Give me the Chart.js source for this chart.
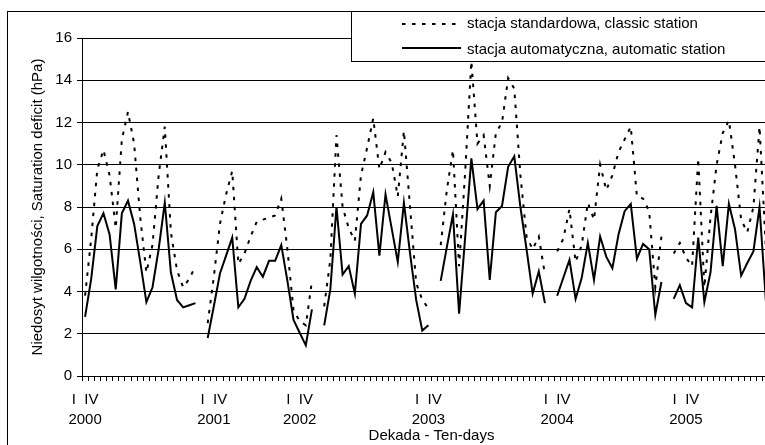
<!DOCTYPE html>
<html lang="pl">
<head>
<meta charset="utf-8">
<title>Niedosyt wilgotności</title>
<script src="https://cdn.jsdelivr.net/npm/chart.js@4.4.1/dist/chart.umd.min.js"></script>
<style>
  html, body { margin: 0; padding: 0; background: #fff; overflow: hidden; }
  #wrap { width: 800px; height: 445px; }
</style>
</head>
<body>
<div id="wrap"><canvas id="deficitChart" width="800" height="445"></canvas></div>
<script>
// 1. Dane (dekady sezonu, między latami jedna pusta dekada)
const years = ['2000', '2001', '2002', '2003', '2004', '2005'];
const yearTickIndex = [0, 21, 35, 56, 77, 98];
const dekadaLabel = 'I  IV';

// stacja standardowa (linia kropkowana)
const classic2000 = [3.8, 6.5, 9.8, 10.7, 9.5, 7.0, 11.2, 12.5, 11.0, 7.5, 4.9, 6.2, 9.5, 11.8, 6.8, 5.0, 4.2, 4.6, 5.2];
const classic2001 = [2.5, 4.7, 7.2, 8.6, 9.7, 5.3, 5.8, 6.6, 7.3, 7.4, 7.5, 7.6, 8.4, 6.0, 3.1, 2.6, 2.4, 4.5];
const classic2002 = [3.3, 5.5, 11.4, 8.0, 7.0, 6.4, 9.5, 10.8, 12.2, 9.8, 10.6, 10.1, 8.5, 11.6, 8.0, 4.4, 3.6, 3.2];
const classic2003 = [6.2, 8.8, 10.7, 5.2, 9.7, 14.9, 11.0, 11.4, 9.0, 11.5, 12.0, 14.1, 13.6, 9.5, 6.6, 6.0, 6.6, 4.8];
const classic2004 = [5.9, 6.5, 7.9, 5.4, 6.2, 8.2, 7.4, 10.0, 8.8, 9.5, 10.6, 11.2, 11.8, 8.5, 8.4, 7.8, 4.2, 6.6];
const classic2005 = [5.8, 6.3, 5.6, 5.2, 10.3, 4.2, 7.5, 10.0, 11.5, 12.1, 10.0, 7.4, 6.8, 8.0, 11.8, 6.2, 7.0, 8.0];

// stacja automatyczna (linia ciągła)
const automatic2000 = [2.8, 4.6, 7.1, 7.7, 6.7, 4.1, 7.7, 8.3, 7.2, 5.4, 3.5, 4.2, 6.0, 8.2, 4.9, 3.6, 3.25, 3.35, 3.45];
const automatic2001 = [1.8, 3.3, 4.85, 5.7, 6.55, 3.25, 3.65, 4.5, 5.15, 4.7, 5.45, 5.45, 6.2, 4.5, 2.65, 2.05, 1.45, 3.15];
const automatic2002 = [2.4, 4.1, 8.0, 4.8, 5.2, 3.9, 7.2, 7.6, 8.7, 5.7, 8.6, 7.0, 5.4, 8.2, 5.8, 3.6, 2.15, 2.4];
const automatic2003 = [4.5, 6.1, 7.65, 2.95, 6.6, 10.3, 7.9, 8.3, 4.55, 7.75, 8.05, 9.9, 10.4, 8.0, 6.0, 3.9, 4.95, 3.45];
const automatic2004 = [3.8, 4.65, 5.5, 3.65, 4.65, 6.3, 4.55, 6.6, 5.65, 5.1, 6.7, 7.8, 8.15, 5.55, 6.25, 6.0, 2.9, 4.45];
const automatic2005 = [3.65, 4.3, 3.45, 3.25, 6.55, 3.5, 4.9, 8.05, 5.2, 8.15, 6.95, 4.75, 5.35, 5.9, 8.0, 3.7, 5.0, 6.0];

// 2. Składanie serii - null po każdym roku przerywa linię
function joinYears(parts) {
    const out = [];
    parts.forEach((part, k) => {
        out.push(...part);
        if (k < parts.length - 1) out.push(null);
    });
    return out;
}

const classicSeries = joinYears([classic2000, classic2001, classic2002, classic2003, classic2004, classic2005]);
const automaticSeries = joinYears([automatic2000, automatic2001, automatic2002, automatic2003, automatic2004, automatic2005]);
const categories = classicSeries.map((_, i) => String(i + 1));

// 3. Ramka wykresu i legenda w prostokącie (jak w Excelu)
const frameAndLegend = {
    id: 'frameAndLegend',
    afterDraw(chart) {
        const ctx = chart.ctx;
        ctx.save();
        ctx.strokeStyle = '#000';
        ctx.lineWidth = 1;
        ctx.strokeRect(7.5, 11.5, chart.width, chart.height);

        ctx.fillStyle = '#fff';
        ctx.fillRect(351, 11, 460, 51);
        ctx.strokeRect(351.5, 11.5, 460, 50);

        chart.data.datasets.forEach((ds, k) => {
            const y = k === 0 ? 24 : 48;
            ctx.beginPath();
            ctx.setLineDash(ds.borderDash || []);
            ctx.lineWidth = ds.borderWidth;
            ctx.strokeStyle = ds.borderColor;
            ctx.moveTo(402, y);
            ctx.lineTo(461, y);
            ctx.stroke();
            ctx.setLineDash([]);
            ctx.fillStyle = '#000';
            ctx.font = '15px "Liberation Sans", Arial, sans-serif';
            ctx.textBaseline = 'middle';
            ctx.fillText(ds.label, 467, k === 0 ? 24 : 50);
        });
        ctx.restore();
    }
};

// 4. Wykres
document.addEventListener('DOMContentLoaded', function() {
    Chart.defaults.font.family = '"Liberation Sans", Arial, sans-serif';
    Chart.defaults.font.size = 15;
    Chart.defaults.color = '#000';

    const ctx = document.getElementById('deficitChart');
    new Chart(ctx, {
        type: 'line',
        data: {
            labels: categories,
            datasets: [{
                label: 'stacja standardowa, classic station',
                data: classicSeries,
                borderColor: '#000',
                borderWidth: 2,
                borderDash: [3.5, 6.5],
                pointRadius: 0,
                tension: 0,
                fill: false,
                spanGaps: false
            }, {
                label: 'stacja automatyczna, automatic station',
                data: automaticSeries,
                borderColor: '#000',
                borderWidth: 2,
                pointRadius: 0,
                tension: 0,
                fill: false,
                spanGaps: false
            }]
        },
        options: {
            responsive: false,
            animation: false,
            layout: { padding: { top: 38, right: 19, bottom: 0, left: 0 } },
            plugins: {
                legend: { display: false },
                tooltip: { enabled: false }
            },
            scales: {
                x: {
                    type: 'category',
                    offset: true,
                    grid: { drawOnChartArea: false, tickLength: 5, color: '#000', offset: true },
                    border: { color: '#000' },
                    ticks: {
                        autoSkip: false,
                        maxRotation: 0,
                        minRotation: 0,
                        padding: 9,
                        font: { size: 15, lineHeight: 1.34 },
                        callback: function(value, index) {
                            const k = yearTickIndex.indexOf(index);
                            return k >= 0 ? [dekadaLabel, years[k]] : '';
                        }
                    },
                    title: {
                        display: true,
                        text: 'Dekada - Ten-days',
                        font: { size: 15 },
                        padding: { top: 0, bottom: 0 }
                    },
                    afterFit: function(scale) { scale.height = 69; }
                },
                y: {
                    min: 0,
                    max: 16,
                    ticks: { stepSize: 2, padding: 5 },
                    grid: { color: '#000', tickLength: 5 },
                    border: { color: '#000' },
                    title: {
                        display: true,
                        text: 'Niedosyt wilgotności, Saturation deficit (hPa)',
                        font: { size: 15 },
                        padding: { top: 29, bottom: 0 }
                    },
                    afterFit: function(scale) { scale.width = 82; }
                }
            }
        },
        plugins: [frameAndLegend]
    });
});
</script>
</body>
</html>
